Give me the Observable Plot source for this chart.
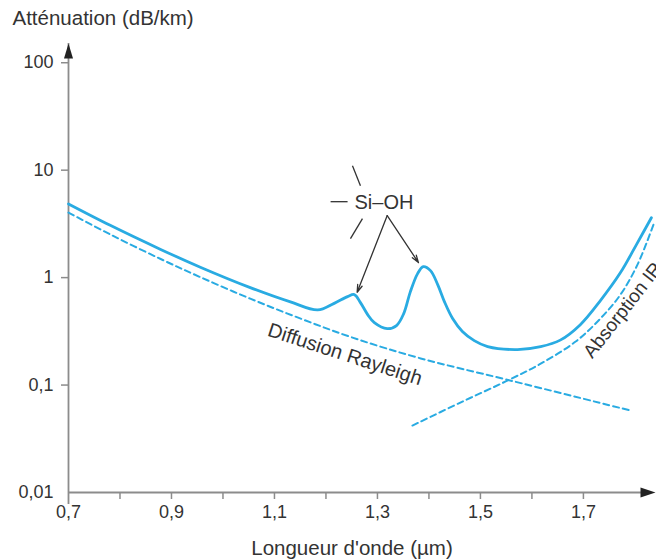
<!DOCTYPE html>
<html><head><meta charset="utf-8">
<script src="https://cdn.jsdelivr.net/npm/d3@7"></script>
<script src="https://cdn.jsdelivr.net/npm/@observablehq/plot@0.6"></script>
<style>body{margin:0;background:#fff}</style>
</head><body><div id="chart"></div>
<script>
// Total attenuation (solid)
const wavelengthTotal = [0.700, 0.782, 0.879, 0.956, 1.053, 1.131, 1.184, 1.215, 1.242, 1.255, 1.267, 1.281, 1.294, 1.319, 1.337, 1.351, 1.364, 1.378, 1.389, 1.403, 1.417, 1.430, 1.446, 1.465, 1.488, 1.514, 1.572, 1.617, 1.655, 1.694, 1.733, 1.772, 1.803, 1.832];
const attenuationTotal = [4.85, 3.05, 1.83, 1.25, 0.807, 0.594, 0.50, 0.573, 0.666, 0.695, 0.585, 0.453, 0.381, 0.335, 0.358, 0.462, 0.741, 1.09, 1.266, 1.162, 0.861, 0.598, 0.416, 0.315, 0.259, 0.228, 0.214, 0.228, 0.262, 0.365, 0.611, 1.113, 2.03, 3.61];
// Rayleigh scattering (dashed)
const wavelengthRayleigh = [0.700, 0.782, 0.879, 0.956, 1.053, 1.151, 1.253, 1.384, 1.549, 1.791];
const attenuationRayleigh = [4.03, 2.51, 1.49, 1.01, 0.637, 0.415, 0.275, 0.177, 0.113, 0.058];
// IR absorption (dashed)
const wavelengthIR = [1.368, 1.461, 1.549, 1.617, 1.685, 1.733, 1.772, 1.805, 1.836];
const attenuationIR = [0.042, 0.0687, 0.108, 0.158, 0.254, 0.416, 0.695, 1.32, 3.11];

const xTicksLabelled = [0.7, 0.9, 1.1, 1.3, 1.5, 1.7];
const xTickLabels = ["0,7", "0,9", "1,1", "1,3", "1,5", "1,7"];
const xTicksAll = [0.8, 0.9, 1.0, 1.1, 1.2, 1.3, 1.4, 1.5, 1.6, 1.7];
const yTicksLabelled = [0.01, 0.1, 1, 10, 100];
const yTickLabels = ["0,01", "0,1", "1", "10", "100"];
const yTicksMarked = [0.1, 1, 10, 100];

const xDomain = [0.7, 1.84];
const yDomain = [0.01, 151];

const yTitle = "Atténuation (dB/km)";
const xTitle = "Longueur d'onde (µm)";
const siohLabel = "Si–OH";
const siohPos = {x: 1.3126, y: 5.04};
const siohBonds = [
  {x1: 1.2515, y1: 11.0, x2: 1.267, y2: 7.17},
  {x1: 1.209, y1: 5.09, x2: 1.242, y2: 5.09},
  {x1: 1.2476, y1: 2.31, x2: 1.2709, y2: 3.54}
];
const siohArrows = [
  {x1: 1.319, y1: 3.78, x2: 1.2606, y2: 0.73},
  {x1: 1.319, y1: 3.78, x2: 1.3796, y2: 1.38}
];
const rayleighLabel = {text: "Diffusion Rayleigh", x: 1.237, y: 0.193};
const irLabel = {text: "Absorption IR", x: 1.708, y: 0.188};

const total = wavelengthTotal.map((w, i) => ({w, a: attenuationTotal[i]}));
const rayleigh = wavelengthRayleigh.map((w, i) => ({w, a: attenuationRayleigh[i]}));
const ir = wavelengthIR.map((w, i) => ({w, a: attenuationIR[i]}));

const blue = "#29abe2";
const gray = "#8c8c8c";
const ink = "#333";

const chart = Plot.plot({
  width: 656,
  height: 560,
  marginLeft: 68,
  marginRight: 1,
  marginTop: 43,
  marginBottom: 68,
  style: {fontFamily: "'Liberation Sans', Arial, Helvetica, sans-serif", fontSize: "18px", color: ink, background: "#fff"},
  x: {domain: xDomain, label: null},
  y: {type: "log", domain: yDomain, label: null},
  marks: [
    // axis lines
    Plot.ruleX([xDomain[0]], {y1: yDomain[0], y2: yDomain[1], stroke: gray, strokeWidth: 1.8, insetTop: 12}),
    Plot.ruleY([yDomain[0]], {x1: xDomain[0], x2: xDomain[1], stroke: gray, strokeWidth: 1.8, insetRight: 12}),
    Plot.vector([{x: xDomain[1], y: yDomain[0]}], {x: "x", y: "y", dx: -15, length: 15, r: 5, rotate: 90, shape: "spike", anchor: "start", fill: "#222", stroke: "none"}),
    Plot.vector([{x: xDomain[0], y: yDomain[1]}], {x: "x", y: "y", dy: 15, length: 15, r: 4.5, rotate: 0, shape: "spike", anchor: "start", fill: "#222", stroke: "none"}),
    // ticks
    Plot.axisX({ticks: xTicksAll, tickSize: 7, stroke: gray, strokeWidth: 1.5, fill: "none", label: null}),
    Plot.axisX({ticks: xTicksLabelled, tickSize: 7, tickPadding: 6, stroke: "none", fill: ink, label: null,
      tickFormat: d => xTickLabels[xTicksLabelled.indexOf(d)]}),
    Plot.axisY({ticks: yTicksMarked, tickSize: 7, stroke: gray, strokeWidth: 1.5, fill: "none", label: null}),
    Plot.axisY({ticks: yTicksLabelled, tickSize: 7, tickPadding: 8, stroke: "none", fill: ink, label: null,
      tickFormat: d => yTickLabels[yTicksLabelled.indexOf(d)]}),
    // curves
    Plot.line(rayleigh, {x: "w", y: "a", stroke: blue, strokeWidth: 2, strokeDasharray: "6,4", curve: "catmull-rom"}),
    Plot.line(ir, {x: "w", y: "a", stroke: blue, strokeWidth: 2, strokeDasharray: "6,4", curve: "catmull-rom"}),
    Plot.line(total, {x: "w", y: "a", stroke: blue, strokeWidth: 2.8, curve: "catmull-rom"}),
    // annotations
    Plot.link(siohBonds, {x1: "x1", y1: "y1", x2: "x2", y2: "y2", stroke: ink, strokeWidth: 1.3}),
    Plot.arrow(siohArrows, {x1: "x1", y1: "y1", x2: "x2", y2: "y2", stroke: ink, strokeWidth: 1.3, headLength: 9, headAngle: 35}),
    Plot.text([siohLabel], {x: siohPos.x, y: siohPos.y, text: d => d, fontSize: 20, fill: ink}),
    Plot.text([rayleighLabel], {x: "x", y: "y", text: "text", rotate: 18, fontSize: 20, fill: ink}),
    Plot.text([irLabel], {x: "x", y: "y", text: "text", rotate: -52, textAnchor: "start", fontSize: 19, fill: ink}),
    Plot.text([yTitle], {frameAnchor: "top-left", text: d => d, dx: -56, dy: -25, textAnchor: "start", lineAnchor: "middle", fontSize: 20.5, fill: ink}),
    Plot.text([xTitle], {frameAnchor: "bottom", text: d => d, dx: -10, dy: 56, lineAnchor: "middle", fontSize: 20.5, fill: ink})
  ]
});
document.getElementById("chart").appendChild(chart);
</script>
</body></html>
